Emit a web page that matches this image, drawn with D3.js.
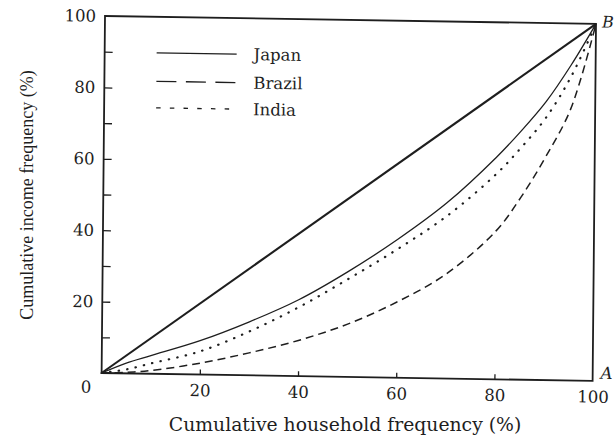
<!DOCTYPE html>
<html><head><meta charset="utf-8">
<script src="https://cdn.jsdelivr.net/npm/d3@7"></script>
<style>html,body{margin:0;padding:0;background:#fff}svg{display:block}</style>
</head><body><svg id="c" width="616" height="437"></svg>
<script>
// ---- data ----
const household = [0, 5, 10, 20, 30, 40, 50, 60, 70, 80, 85, 90, 95, 100];
const japan     = [0, 2.9, 5.1, 9.5, 15, 21.4, 29.5, 38.7, 49.2, 62.2, 69.7, 78, 88.3, 100];
const brazil    = [0, 0.3, 0.9, 3.2, 6.3, 10, 14.8, 21.2, 29.3, 41.5, 51, 62.5, 76, 100];
const india     = [0, 1.1, 2.9, 6.5, 12.3, 19.3, 27.4, 36, 45.5, 57.5, 65, 73.5, 85, 100];
const equalityX = [0, 100];
const equalityY = [0, 100];
const yTickValues = [10, 20, 30, 40, 50, 60, 70, 80, 90];
const yLabelValues = [20, 40, 60, 80, 100];
const xTickValues = [20, 40, 60, 80];
const xLabelValues = [20, 40, 60, 80, 100];
const originLabel = "0";
const legendNames = ["Japan", "Brazil", "India"];
const xTitle = "Cumulative household frequency (%)";
const yTitle = "Cumulative income frequency (%)";

// ---- layout ----
const W = 491, H = 357;
const x = d3.scaleLinear().domain([0, 100]).range([0, W]);
const y = d3.scaleLinear().domain([0, 100]).range([H, 0]);
const ink = "#1e1e1e";
const svg = d3.select("#c");
// slight skew of the scanned page
const g = svg.append("g").attr("transform", "matrix(1,0.016,-0.0095,1,105,16)");

const serif = "'DejaVu Serif', serif";

// y ticks (inward)
const yAxis = d3.axisLeft(y).tickValues(yTickValues.concat([100])).tickSize(-8).tickPadding(9)
  .tickFormat(d => yLabelValues.includes(d) ? d : "");
const ya = g.append("g").call(yAxis);
ya.select(".domain").remove();
ya.selectAll("line").attr("stroke", ink).attr("stroke-width", 1.3);
ya.selectAll(".tick").filter(d => d === 100).select("line").remove();
ya.selectAll("text").attr("font-family", serif).attr("font-size", 16.5).attr("fill", ink);

// x ticks (inward)
const xAxis = d3.axisBottom(x).tickValues(xLabelValues).tickSize(-5).tickPadding(10);
const xa = g.append("g").attr("transform", `translate(0,${H})`).call(xAxis);
xa.select(".domain").remove();
xa.selectAll("line").attr("stroke", ink).attr("stroke-width", 1.3);
xa.selectAll(".tick").filter(d => !xTickValues.includes(d)).select("line").remove();
xa.selectAll("text").attr("font-family", serif).attr("font-size", 16.5).attr("fill", ink);

g.append("text").attr("x", x(0) - 15.5).attr("y", y(0) + 14).attr("dy", "0.35em")
  .attr("text-anchor", "middle").attr("font-family", serif).attr("font-size", 16.5)
  .attr("fill", ink).text(originLabel);

// frame
g.append("rect").attr("x", x(0)).attr("y", y(100)).attr("width", x(100) - x(0)).attr("height", y(0) - y(100))
  .attr("fill", "none").attr("stroke", ink).attr("stroke-width", 1.8);

// curves
const line = d3.line().x(d => x(d[0])).y(d => y(d[1])).curve(d3.curveCatmullRom.alpha(0.5));
const zipS = vals => household.map((h, i) => [h, vals[i]]);

g.append("path").datum(equalityX.map((v, i) => [v, equalityY[i]])).attr("d", line)
  .attr("fill", "none").attr("stroke", ink).attr("stroke-width", 2.1);
g.append("path").datum(zipS(japan)).attr("d", line)
  .attr("fill", "none").attr("stroke", ink).attr("stroke-width", 1.3);
g.append("path").datum(zipS(india)).attr("d", line)
  .attr("fill", "none").attr("stroke", ink).attr("stroke-width", 2.2)
  .attr("stroke-linecap", "round").attr("stroke-dasharray", "0.4,8.2");
g.append("path").datum(zipS(brazil)).attr("d", line)
  .attr("fill", "none").attr("stroke", ink).attr("stroke-width", 1.5)
  .attr("stroke-dasharray", "8,5");

// legend
const legY = [36, 64.5, 91];
const legDash = [null, "20,9.5", "4.5,9.2"];
const legW = [1.3, 1.4, 1.3];
legendNames.forEach((name, i) => {
  g.append("line").attr("x1", 52).attr("x2", 132).attr("y1", legY[i]).attr("y2", legY[i])
    .attr("stroke", ink).attr("stroke-width", legW[i])
    .attr("stroke-dasharray", legDash[i]);
  g.append("text").attr("x", 149).attr("y", legY[i]).attr("dy", "0.35em")
    .attr("font-family", serif).attr("font-size", 16.5).attr("fill", ink).text(name);
});

// corner letters
g.append("text").attr("x", x(100) + 6).attr("y", y(100) - 2).attr("dy", "0.35em")
  .attr("font-family", serif).attr("font-style", "italic").attr("font-size", 16)
  .attr("fill", ink).text("B");
g.append("text").attr("x", x(100) + 8).attr("y", y(0) - 8).attr("dy", "0.35em")
  .attr("font-family", serif).attr("font-style", "italic").attr("font-size", 16.5)
  .attr("fill", ink).text("A");

// axis titles
svg.append("text").attr("x", 345).attr("y", 424).attr("dy", "0.35em").attr("text-anchor", "middle")
  .attr("font-family", serif).attr("font-size", 18.8).attr("fill", ink).text(xTitle);
svg.append("text").attr("transform", "translate(27,195) rotate(-90)").attr("dy", "0.35em")
  .attr("text-anchor", "middle").attr("font-family", "'Liberation Serif', serif")
  .attr("font-size", 18).attr("fill", ink).text(yTitle);
</script>
</body></html>
